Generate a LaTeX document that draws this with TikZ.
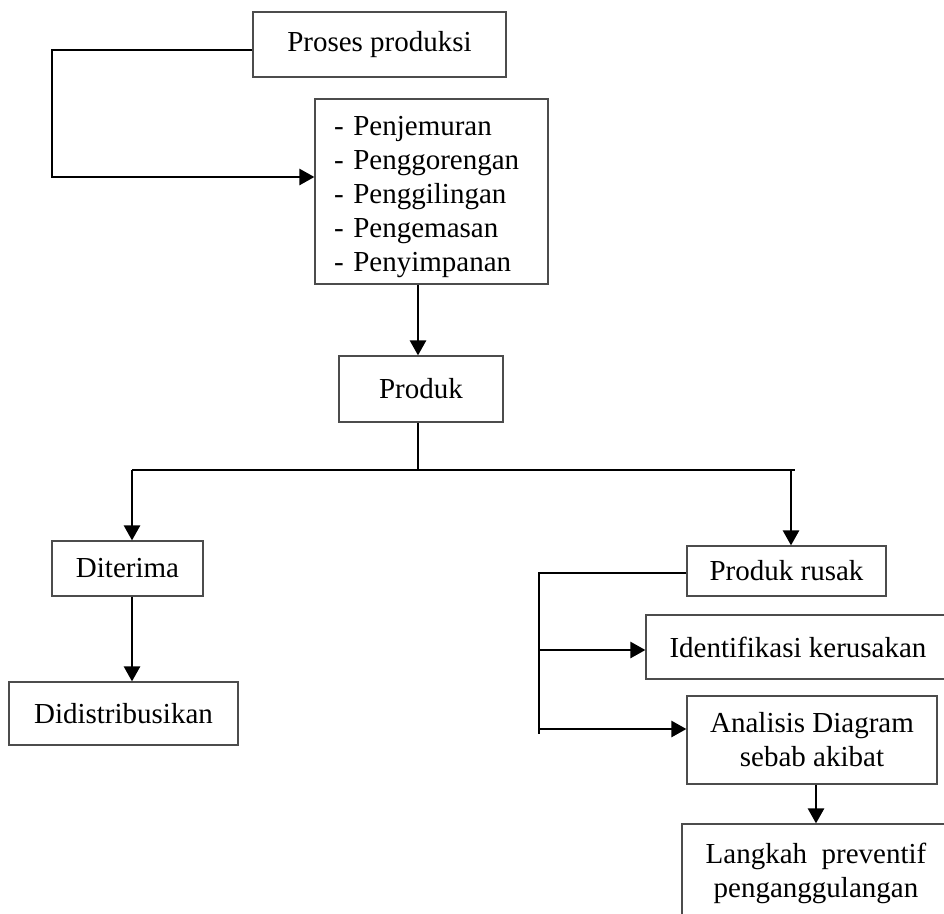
\documentclass[tikz,border=0pt]{standalone}
\usepackage{fontspec}
\setmainfont{Liberation Serif}
\usetikzlibrary{arrows.meta}
\begin{document}
\begin{tikzpicture}[x=1pt,y=-1pt,
  box/.style={draw=black!70, line width=1.2pt, inner sep=0pt, font=\fontsize{29}{34}\selectfont, align=center},
  conn/.style={draw=black, line width=2.6pt},
  thinconn/.style={draw=black, line width=1.6pt},
  arr/.style={conn, -{Triangle[length=15pt,width=16pt]}}]
\useasboundingbox (0,0) rectangle (944,913);
\clip (0,0) rectangle (944,913);
% nodes
\node[box, minimum width=253pt, minimum height=65pt] (proses) at (379.5,44.5) {Proses produksi};
\node[box, minimum width=233pt, minimum height=185pt, text width=195pt, inner xsep=19pt, align=left] (list) at (431.5,191.5)
  {\rule{0pt}{30pt}- Penjemuran\\- Penggorengan\\- Penggilingan\\- Pengemasan\\- Penyimpanan};
\node[box, minimum width=164pt, minimum height=66pt] (produk) at (421,389) {Produk};
\node[box, minimum width=151pt, minimum height=55pt] (diterima) at (127.5,568.5) {Diterima};
\node[box, minimum width=229pt, minimum height=63pt] (distrib) at (123.5,713.5) {Didistribusikan};
\node[box, minimum width=199pt, minimum height=50pt] (rusak) at (786.5,571) {Produk rusak};
\node[box, minimum width=304pt, minimum height=64pt] (identif) at (798,647) {Identifikasi kerusakan};
\node[box, minimum width=250pt, minimum height=88pt] (analisis) at (812,740) {Analisis Diagram\\sebab akibat};
\node[box, minimum width=268pt, minimum height=99pt] (langkah) at (816,873.5) {Langkah\ \ preventif\\penganggulangan};
% helper coordinates
\coordinate (a1) at (52,50);
\coordinate (a2) at (52,177);
\coordinate (xa) at (418,0);
\coordinate (split) at (418,470);
\coordinate (hl) at (132,470);
\coordinate (hr) at (795,470);
\coordinate (xr) at (791,470);
\coordinate (xb) at (816,0);
\coordinate (v1) at (539,573);
\coordinate (v2) at (539,734);
\coordinate (b1) at (539,650);
\coordinate (b2) at (539,729);
% connectors
\draw[arr] ([yshift=-5.5pt]proses.west) -- (a1) -- (a2) -- (list.west |- a2);
\draw[arr] (list.south -| xa) -- (produk.north -| xa);
\draw[thinconn] (produk.south -| xa) -- (split);
\draw[conn] (hl) -- (hr);
\draw[arr] (hl) -- (diterima.north -| hl);
\draw[arr] (xr) -- (rusak.north -| xr);
\draw[arr] (diterima.south -| hl) -- (distrib.north -| hl);
\draw[conn] (rusak.west |- v1) -- (v1) -- (v2);
\draw[arr] (b1) -- (identif.west |- b1);
\draw[arr] (b2) -- (analisis.west |- b2);
\draw[arr] (analisis.south -| xb) -- (langkah.north -| xb);
\end{tikzpicture}
\end{document}
